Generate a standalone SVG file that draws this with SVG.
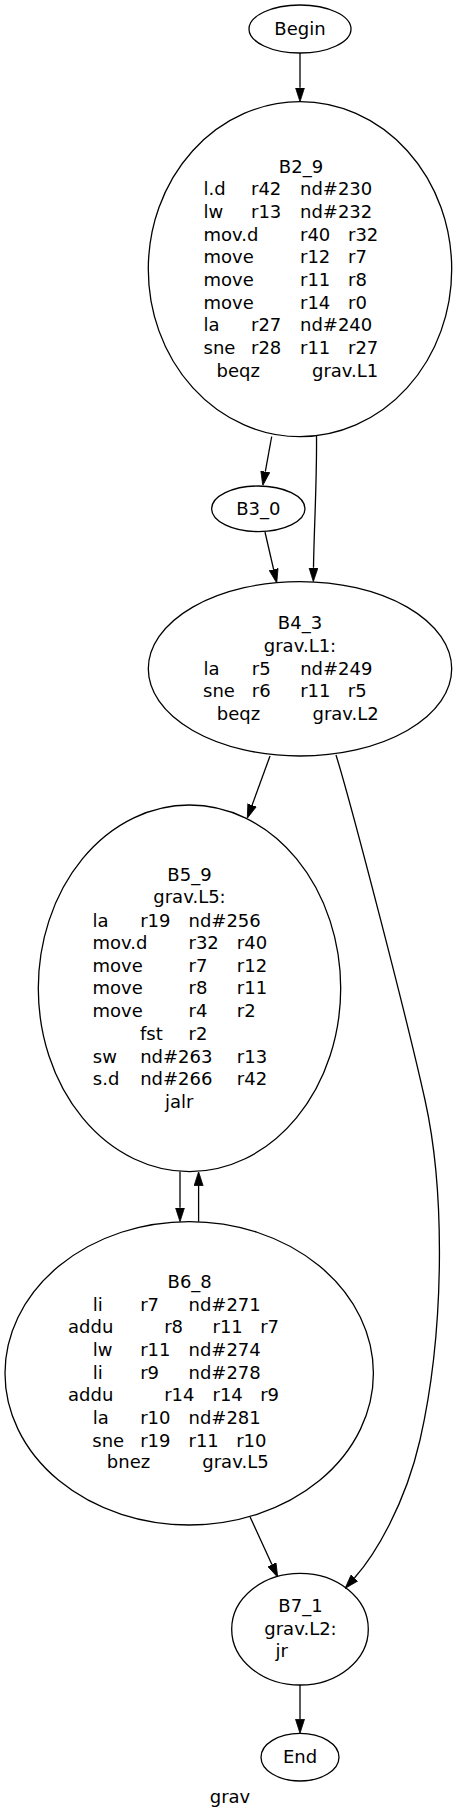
<svg xmlns="http://www.w3.org/2000/svg" width="463" height="1820" viewBox="0 0 463 1820">
<style>
text { font-family: "DejaVu Sans", "Liberation Sans", sans-serif; font-size: 18px; fill: #000; }
.m { text-anchor: middle; }
ellipse { fill: none; stroke: #000; stroke-width: 1.3; }
.edge { fill: none; stroke: #000; stroke-width: 1.3; marker-end: url(#arr); }
</style>
<defs>
<marker id="arr" markerUnits="userSpaceOnUse" viewBox="0 0 14 10" markerWidth="14" markerHeight="10" refX="0" refY="5" orient="auto">
<path d="M0,0.5 L14,5 L0,9.5 z" fill="#000" stroke="#000" stroke-width="0.8"/>
</marker>
</defs>
<rect x="0" y="0" width="463" height="1820" fill="#fff"/>
<g id="edges">
<path class="edge" d="M300,53 L300,87.7"/>
<path class="edge" d="M271.7,436.5 L265.3,471.7"/>
<path class="edge" d="M316.5,436 C317,480 314,530 313.5,567.7"/>
<path class="edge" d="M265,532 L273.6,569.4"/>
<path class="edge" d="M270,756 L252.1,805.1"/>
<path class="edge" d="M336,755 C350,800 405,1010 425,1100 C445,1190 445,1330 420,1440 C405,1505 375,1555 354.4,1578"/>
<path class="edge" d="M180,1171.5 L180,1207.7"/>
<path class="edge" d="M198.6,1221.7 L198.6,1185.7"/>
<path class="edge" d="M250,1516.7 L271.9,1564.6"/>
<path class="edge" d="M300,1685 L300,1719.3"/>
</g>
<g id="Begin">
<ellipse cx="300" cy="29" rx="51" ry="24"/>
<text class="m" x="300" y="35">Begin</text>
</g>
<g id="B2_9">
<ellipse cx="300" cy="269.2" rx="151.7" ry="167.5"/>
<text class="m" x="301" y="172.7">B2_9</text>
<text y="195"><tspan x="203.5">l.d</tspan><tspan x="251">r42</tspan><tspan x="300">nd#230</tspan></text>
<text y="218"><tspan x="203.5">lw</tspan><tspan x="251">r13</tspan><tspan x="300">nd#232</tspan></text>
<text y="240.7"><tspan x="203.5">mov.d</tspan><tspan x="300">r40</tspan><tspan x="348">r32</tspan></text>
<text y="263.3"><tspan x="203.5">move</tspan><tspan x="300">r12</tspan><tspan x="348">r7</tspan></text>
<text y="286"><tspan x="203.5">move</tspan><tspan x="300">r11</tspan><tspan x="348">r8</tspan></text>
<text y="308.5"><tspan x="203.5">move</tspan><tspan x="300">r14</tspan><tspan x="348">r0</tspan></text>
<text y="331"><tspan x="203.5">la</tspan><tspan x="251">r27</tspan><tspan x="300">nd#240</tspan></text>
<text y="354"><tspan x="203.5">sne</tspan><tspan x="251">r28</tspan><tspan x="300">r11</tspan><tspan x="348">r27</tspan></text>
<text y="376.7"><tspan x="216.5">beqz</tspan><tspan x="312">grav.L1</tspan></text>
</g>
<g id="B3_0">
<ellipse cx="258.3" cy="508.8" rx="46.7" ry="22.8"/>
<text class="m" x="258.3" y="515">B3_0</text>
</g>
<g id="B4_3">
<ellipse cx="300" cy="668.8" rx="151.7" ry="87.2"/>
<text class="m" x="300" y="629">B4_3</text>
<text class="m" x="300" y="651.7">grav.L1:</text>
<text y="675"><tspan x="203.5">la</tspan><tspan x="251.8">r5</tspan><tspan x="300.2">nd#249</tspan></text>
<text y="697.3"><tspan x="203">sne</tspan><tspan x="251.8">r6</tspan><tspan x="300.2">r11</tspan><tspan x="347.8">r5</tspan></text>
<text y="720"><tspan x="216.8">beqz</tspan><tspan x="312.5">grav.L2</tspan></text>
</g>
<g id="B5_9">
<ellipse cx="189.5" cy="988.3" rx="151.2" ry="183.3"/>
<text class="m" x="189.5" y="880.7">B5_9</text>
<text class="m" x="189.5" y="903.3">grav.L5:</text>
<text y="926.7"><tspan x="92.5">la</tspan><tspan x="140.2">r19</tspan><tspan x="188.5">nd#256</tspan></text>
<text y="949"><tspan x="92.5">mov.d</tspan><tspan x="188.5">r32</tspan><tspan x="236.8">r40</tspan></text>
<text y="971.7"><tspan x="92.5">move</tspan><tspan x="188.5">r7</tspan><tspan x="236.8">r12</tspan></text>
<text y="994.3"><tspan x="92.5">move</tspan><tspan x="188.5">r8</tspan><tspan x="236.8">r11</tspan></text>
<text y="1016.7"><tspan x="92.5">move</tspan><tspan x="188.5">r4</tspan><tspan x="236.8">r2</tspan></text>
<text y="1040"><tspan x="140">fst</tspan><tspan x="188.5">r2</tspan></text>
<text y="1062.7"><tspan x="92.8">sw</tspan><tspan x="140.2">nd#263</tspan><tspan x="236.8">r13</tspan></text>
<text y="1085"><tspan x="92.8">s.d</tspan><tspan x="140.2">nd#266</tspan><tspan x="236.8">r42</tspan></text>
<text x="165" y="1107.7">jalr</text>
</g>
<g id="B6_8">
<ellipse cx="189.2" cy="1373.3" rx="184.2" ry="151.7"/>
<text class="m" x="189.7" y="1288.3">B6_8</text>
<text y="1311"><tspan x="92.8">li</tspan><tspan x="140.2">r7</tspan><tspan x="188.5">nd#271</tspan></text>
<text y="1333.3"><tspan x="68">addu</tspan><tspan x="164.2">r8</tspan><tspan x="212.5">r11</tspan><tspan x="260.2">r7</tspan></text>
<text y="1356"><tspan x="92.8">lw</tspan><tspan x="140.2">r11</tspan><tspan x="188.5">nd#274</tspan></text>
<text y="1379"><tspan x="92.8">li</tspan><tspan x="140.2">r9</tspan><tspan x="188.5">nd#278</tspan></text>
<text y="1401"><tspan x="68">addu</tspan><tspan x="164.2">r14</tspan><tspan x="212.5">r14</tspan><tspan x="260.2">r9</tspan></text>
<text y="1424.3"><tspan x="92.8">la</tspan><tspan x="140.2">r10</tspan><tspan x="188.5">nd#281</tspan></text>
<text y="1446.7"><tspan x="92.3">sne</tspan><tspan x="140.2">r19</tspan><tspan x="188.5">r11</tspan><tspan x="236.2">r10</tspan></text>
<text y="1468.3"><tspan x="106.8">bnez</tspan><tspan x="202.3">grav.L5</tspan></text>
</g>
<g id="B7_1">
<ellipse cx="300" cy="1629.2" rx="68.3" ry="55.8"/>
<text class="m" x="300.5" y="1611.7">B7_1</text>
<text class="m" x="300.5" y="1635">grav.L2:</text>
<text x="275.5" y="1656.7">jr</text>
</g>
<g id="End">
<ellipse cx="300" cy="1757.2" rx="39" ry="23.8"/>
<text class="m" x="300" y="1763.3">End</text>
</g>
<g id="graph-label">
<text class="m" x="230" y="1803.3">grav</text>
</g>
</svg>
